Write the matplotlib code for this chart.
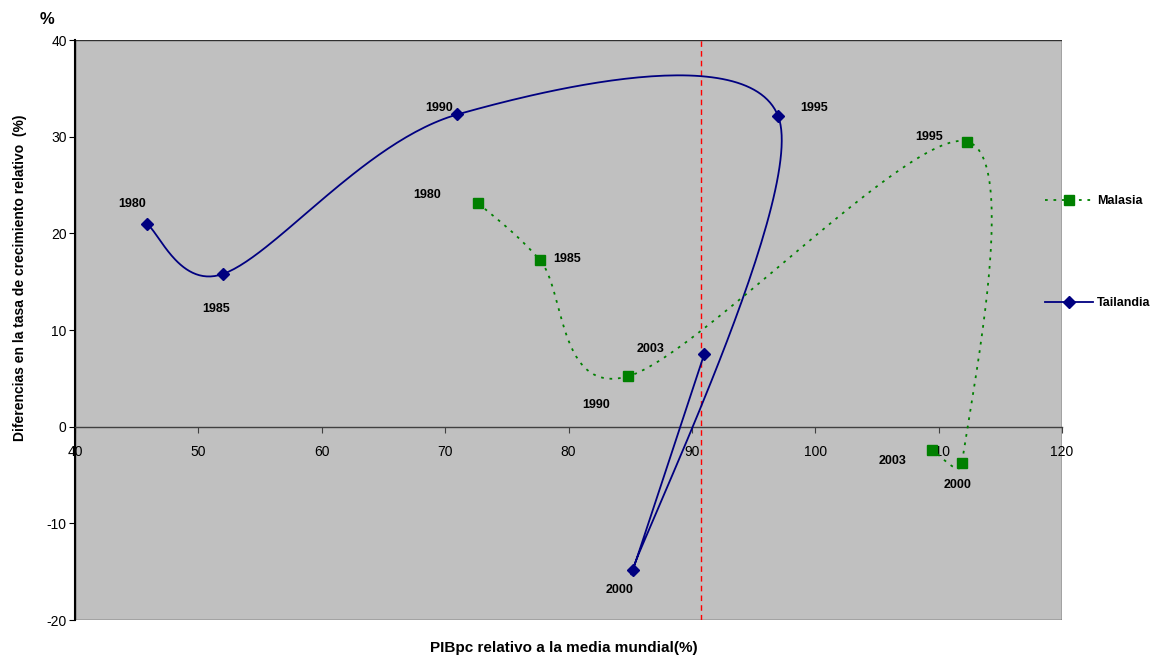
import numpy as np
import matplotlib
matplotlib.use('Agg')
import matplotlib.pyplot as plt
from matplotlib.patches import Rectangle
from matplotlib.lines import Line2D

plt.rcParams['font.family'] = ['Liberation Sans', 'DejaVu Sans']
plt.rcParams['axes.unicode_minus'] = False

# Datos
anios = ['1980', '1985', '1990', '1995', '2000', '2003']
tai_x = [45.8, 52.0, 71.0, 97.0, 85.2, 91.0]
tai_y = [21.0, 15.8, 32.3, 32.1, -14.8, 7.5]
mal_x = [72.7, 77.7, 84.8, 112.3, 111.9, 109.5]
mal_y = [23.1, 17.2, 5.2, 29.5, -3.8, -2.4]
media_x = 90.7

# desplazamiento de las etiquetas de año (pixeles)
off_tai = [(-14, 20), (-7, -35), (-18, 6), (36, 8), (-13, -20), (-54, 5)]
off_mal = [(-51, 8), (27, 1), (-32, -29), (-38, 5), (-5, -22), (-40, -11)]

AZUL = '#000080'
VERDE = '#008000'


def suavizar(ax, xs, ys, n=60):
    """Curva suavizada como la de Excel (Bezier con limite de control), en pixeles."""
    pts = ax.transData.transform(np.column_stack([xs, ys]))
    p = np.vstack([pts[0], pts, pts[-1]])
    t = np.linspace(0, 1, n)[:, None]
    segs = []
    for i in range(1, len(p) - 2):
        p0, p1, p2, p3 = p[i - 1], p[i], p[i + 1], p[i + 2]
        d12 = np.hypot(*(p2 - p1))
        d02 = np.hypot(*(p2 - p0))
        d13 = np.hypot(*(p3 - p1))
        f1 = 1 / 6 if d02 / 6 < d12 / 2 else d12 / (2 * d02)
        f2 = 1 / 6 if d13 / 6 < d12 / 2 else d12 / (2 * d13)
        c1 = p1 + (p2 - p0) * f1
        c2 = p2 - (p3 - p1) * f2
        segs.append((1 - t)**3 * p1 + 3 * (1 - t)**2 * t * c1
                    + 3 * (1 - t) * t**2 * c2 + t**3 * p2)
    curva = ax.transData.inverted().transform(np.vstack(segs))
    return curva[:, 0], curva[:, 1]


fig = plt.figure(figsize=(11.55, 6.57), dpi=100)
ax = fig.add_axes([75 / 1155, 37 / 657, 987 / 1155, 580 / 657])
ax.set_facecolor('#C0C0C0')
ax.set_xlim(40, 120)
ax.set_ylim(-20, 40)
ax.set_xticks(range(40, 121, 10))
ax.set_yticks(range(-20, 41, 10))

# ejes estilo Excel
for s in ['top', 'right']:
    ax.spines[s].set_visible(False)
ax.spines['left'].set_color('black')
ax.spines['left'].set_linewidth(1.5)
ax.spines['bottom'].set_position(('data', 0))
ax.spines['bottom'].set_color('#404040')
ax.spines['bottom'].set_linewidth(1.0)
ax.add_patch(Rectangle((0, 0), 1, 1, transform=ax.transAxes, fill=False,
                       edgecolor='#303030', lw=1.0, zorder=0.5))
ax.tick_params(axis='x', direction='out', length=4, width=0.8, color='#404040',
               labelsize=10, pad=9)
ax.tick_params(axis='y', direction='out', length=4, width=0.8, color='black',
               labelsize=10, pad=2)

# linea de la media mundial
ax.axvline(media_x, color='#FF0000', lw=1.0, ls=(0, (4, 3)), zorder=1)

# Tailandia
cx, cy = suavizar(ax, tai_x, tai_y)
ax.plot(cx, cy, color=AZUL, lw=1.3, zorder=3)
ax.plot(tai_x, tai_y, ls='none', marker='D', ms=6.5, color=AZUL, zorder=4)

# Malasia
cx, cy = suavizar(ax, mal_x, mal_y)
ax.plot(cx, cy, color=VERDE, lw=1.3, ls=(0, (1.5, 3.2)), zorder=3)
ax.plot(mal_x, mal_y, ls='none', marker='s', ms=7, color=VERDE, zorder=4)

for a, x, y, o in zip(anios, tai_x, tai_y, off_tai):
    ax.annotate(a, (x, y), xytext=o, textcoords='offset pixels', ha='center',
                va='center', fontsize=9, fontweight='bold', zorder=5)
for a, x, y, o in zip(anios, mal_x, mal_y, off_mal):
    ax.annotate(a, (x, y), xytext=o, textcoords='offset pixels', ha='center',
                va='center', fontsize=9, fontweight='bold', zorder=5)

# textos de ejes
fig.text(20 / 1155, 1 - 278 / 657, 'Diferencias en la tasa de crecimiento relativo  (%)',
         rotation=90, ha='center', va='center', fontsize=10, fontweight='bold')
fig.text(564 / 1155, 1 - 648 / 657, 'PIBpc relativo a la media mundial(%)',
         ha='center', va='center', fontsize=11, fontweight='bold')
fig.text(47 / 1155, 1 - 20 / 657, '%', ha='center', va='center', fontsize=12,
         fontweight='bold')

# leyenda sobre fondo blanco
fig.add_artist(Rectangle((1063 / 1155, 1 - 354 / 657), 92 / 1155, 204 / 657,
                         transform=fig.transFigure, facecolor='white',
                         edgecolor='none', zorder=2))
handles = [Line2D([], [], color=VERDE, lw=1.3, ls=(0, (1.5, 3.2)), marker='s', ms=7),
           Line2D([], [], color=AZUL, lw=1.3, marker='D', ms=6.5)]
leg = fig.legend(handles, ['Malasia', 'Tailandia'], loc='upper left',
                 bbox_to_anchor=(1045 / 1155, 1 - 195 / 657), frameon=False,
                 handlelength=3.85, handletextpad=0.3, labelspacing=7.2,
                 borderpad=0, borderaxespad=0,
                 prop={'size': 9, 'weight': 'bold'})
leg.set_zorder(6)

fig.savefig('out.png', dpi=100)
